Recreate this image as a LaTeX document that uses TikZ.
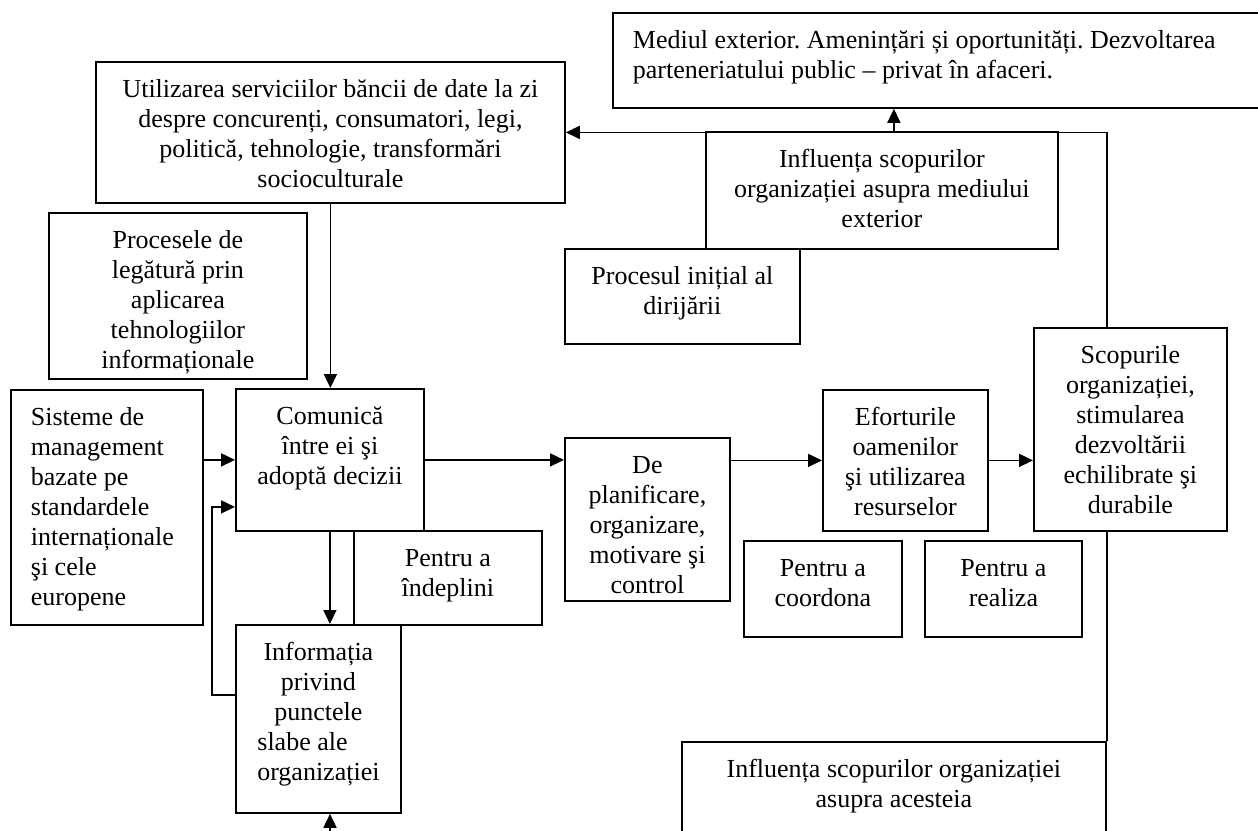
\documentclass[tikz,border=0pt]{standalone}
\usepackage{fontspec}
\setmainfont{Liberation Serif}
\usetikzlibrary{arrows.meta}
\frenchspacing
\newcommand{\boxtxt}[3]{\parbox[c][#2][t]{#1}{\centering\rule{0pt}{36pt}#3}}
\newcommand{\boxtxtl}[3]{\parbox[c][#2][t]{#1}{\raggedright\leftskip=20pt\rule{0pt}{36pt}#3}}
\begin{document}
\begin{tikzpicture}[x=1pt, y=-1pt, font=\fontsize{26}{30}\selectfont,
  box/.style={draw, line width=1.8pt, inner sep=0pt, anchor=north west},
  arr/.style={line width=1.7pt, -{Triangle[length=14pt,width=13pt]}},
  conn/.style={line width=1.7pt}]
\useasboundingbox (0,0) rectangle (1258,830);
\node[box] (mediu) at (612,12) {\boxtxtl{658pt}{95pt}{Mediul exterior. Amenințări și oportunități. Dezvoltarea\\parteneriatului public – privat în afaceri.}};
\node[box] (util) at (95,61) {\boxtxt{469pt}{141pt}{Utilizarea serviciilor băncii de date la zi\\despre concurenți, consumatori, legi,\\politică, tehnologie, transformări\\socioculturale}};
\node[box] (infl) at (705,131) {\boxtxt{352pt}{117pt}{Influența scopurilor\\organizației asupra mediului\\exterior}};
\node[box] (proc) at (564,248) {\boxtxt{235pt}{95pt}{Procesul inițial al\\dirijării}};
\node[box] (legat) at (48,212) {\boxtxt{258pt}{166pt}{Procesele de\\legătură prin\\aplicarea\\tehnologiilor\\informaționale}};
\node[box] (sist) at (10,389) {\boxtxtl{192pt}{235pt}{Sisteme de\\management\\bazate pe\\standardele\\internaționale\\şi cele\\europene}};
\node[box] (comun) at (235,388) {\boxtxt{188pt}{142pt}{Comunică\\între ei şi\\adoptă decizii}};
\node[box] (planif) at (564,437) {\boxtxt{165pt}{163pt}{De\\planificare,\\organizare,\\motivare şi\\control}};
\node[box] (efort) at (822,389) {\boxtxt{165pt}{141pt}{Eforturile\\oamenilor\\şi utilizarea\\resurselor}};
\node[box] (scop) at (1033,327) {\boxtxt{193pt}{203pt}{Scopurile\\organizației,\\stimularea\\dezvoltării\\echilibrate şi\\durabile}};
\node[box] (coord) at (743,540) {\boxtxt{158pt}{96pt}{Pentru a\\coordona}};
\node[box] (realiz) at (924,540) {\boxtxt{157pt}{96pt}{Pentru a\\realiza}};
\node[box] (indepl) at (353,530) {\boxtxt{188pt}{94pt}{Pentru a\\îndeplini}};
\node[box] (info) at (235,624) {\boxtxt{165pt}{188pt}{Informația\\privind\\punctele\\\makebox[122pt][l]{slabe ale}\\organizației}};
\node[box] (inflb) at (681,741) {\boxtxt{424pt}{140pt}{Influența scopurilor organizației\\asupra acesteia}};
\draw[arr] ([xshift=12pt]infl.north) -- ([xshift=12pt]infl.north |- mediu.south);
\draw[arr] (scop.north -| inflb.east) |- (util.east);
\draw[arr] (util.south) -- (util.south |- comun.north);
\draw[arr] (sist.east |- comun.west) -- (comun.west);
\draw[arr] (comun.east) -- (comun.east -| planif.west);
\draw[arr] (planif.east |- efort.west) -- (efort.west);
\draw[arr] (efort.east) -- (efort.east -| scop.west);
\draw[arr] (comun.south) -- (comun.south |- info.north);
\draw[arr] ([yshift=24pt]info.west) -- ++(-23,0) |- ([yshift=-47pt]comun.west);
\coordinate (jos) at (330,835);
\draw[arr] (jos) -- (jos |- info.south);
\draw[conn] (scop.south -| inflb.east) -- (inflb.north east);
\end{tikzpicture}
\end{document}
